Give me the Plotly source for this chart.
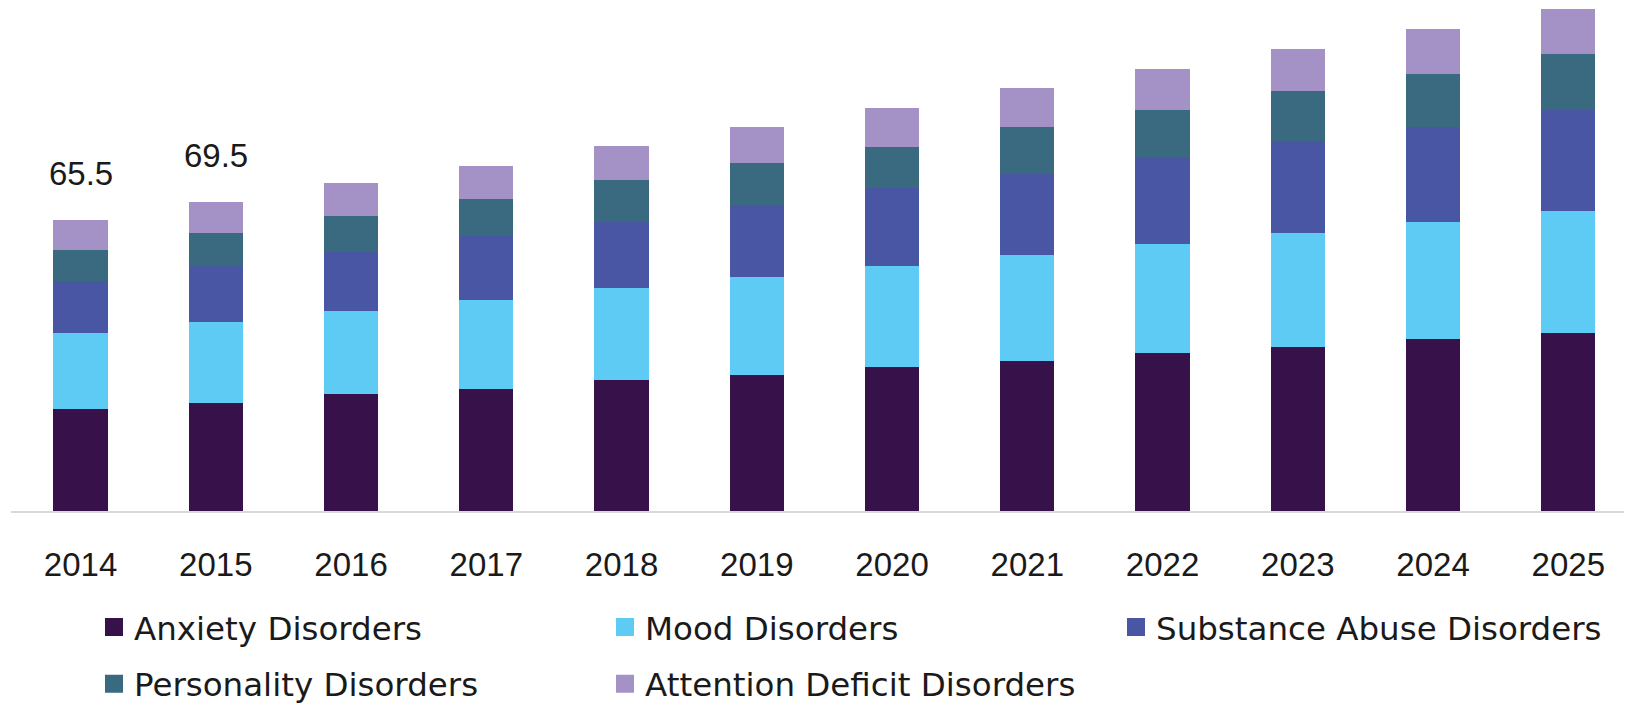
import plotly.graph_objects as go

years = ["2014", "2015", "2016", "2017", "2018", "2019", "2020", "2021", "2022", "2023", "2024", "2025"]

anxiety = [23.0, 24.3, 26.2, 27.5, 29.4, 30.6, 32.4, 33.8, 35.6, 36.9, 38.7, 40.1]
mood = [16.9, 18.1, 18.7, 20.0, 20.6, 21.9, 22.6, 23.8, 24.4, 25.6, 26.3, 27.4]
substance = [11.8, 12.6, 13.2, 14.4, 15.0, 16.2, 17.5, 18.1, 19.5, 20.7, 21.3, 22.6]
personality = [6.9, 7.4, 8.1, 8.1, 9.4, 9.4, 9.3, 10.6, 10.5, 11.2, 11.9, 12.6]
attention = [6.9, 7.0, 7.5, 7.6, 7.6, 8.1, 8.7, 8.8, 9.4, 9.4, 10.0, 10.0]

label_years = ["2014", "2015"]
label_values = [65.5, 69.5]

series = [
    ("Anxiety Disorders", anxiety, "#37114a", "legend"),
    ("Mood Disorders", mood, "#5ecbf5", "legend"),
    ("Substance Abuse Disorders", substance, "#4856a3", "legend"),
    ("Personality Disorders", personality, "#3a6a80", "legend2"),
    ("Attention Deficit Disorders", attention, "#a492c6", "legend2"),
]

TICK_FONT = dict(family="Liberation Sans, Arial, sans-serif", size=33, color="#1a1a1a")
LEG_FONT = dict(family="DejaVu Sans, sans-serif", size=32.5, color="#1a1a1a")

fig = go.Figure()
for name, vals, color, leg in series:
    fig.add_trace(go.Bar(
        x=years, y=vals, name=name, marker=dict(color=color, line=dict(width=0)),
        showlegend=False, hoverinfo="skip",
    ))
# legend entries (square swatches)
for name, vals, color, leg in series:
    fig.add_trace(go.Scatter(
        x=[None], y=[None], name=name, legend=leg, mode="markers",
        marker=dict(symbol="square", size=16, color=color, line=dict(color=color, width=2)),
        showlegend=True,
    ))

for yr, v in zip(label_years, label_values):
    fig.add_annotation(x=years.index(yr), y=v, text=f"{v:.1f}", showarrow=False,
                       xref="x", yref="y", yanchor="middle", yshift=46, font=TICK_FONT)

# page body has an 8px default margin; figure is sized/offset to compensate
fig.update_layout(
    width=1624, height=697,
    margin=dict(l=3, r=0, t=0, b=194, autoexpand=False),
    barmode="stack", bargap=0.6,
    plot_bgcolor="white", paper_bgcolor="white",
    xaxis=dict(
        type="category", range=[-0.514, 11.471],
        showline=True, linecolor="#d9d9d9", linewidth=2,
        showgrid=False, ticks="", tickfont=TICK_FONT, ticklabelstandoff=23,
        fixedrange=True,
    ),
    yaxis=dict(range=[0, 113.03], visible=False, showgrid=False, fixedrange=True),
    legend=dict(
        orientation="h", x=0.0512, xanchor="left", y=-0.2316, yanchor="middle",
        entrywidth=466, entrywidthmode="pixels", font=LEG_FONT,
        bgcolor="rgba(0,0,0,0)", traceorder="normal",
    ),
    legend2=dict(
        orientation="h", x=0.0512, xanchor="left", y=-0.344, yanchor="middle",
        entrywidth=466, entrywidthmode="pixels", font=LEG_FONT,
        bgcolor="rgba(0,0,0,0)", traceorder="normal",
    ),
    showlegend=True,
)

fig.write_html("out.html")
